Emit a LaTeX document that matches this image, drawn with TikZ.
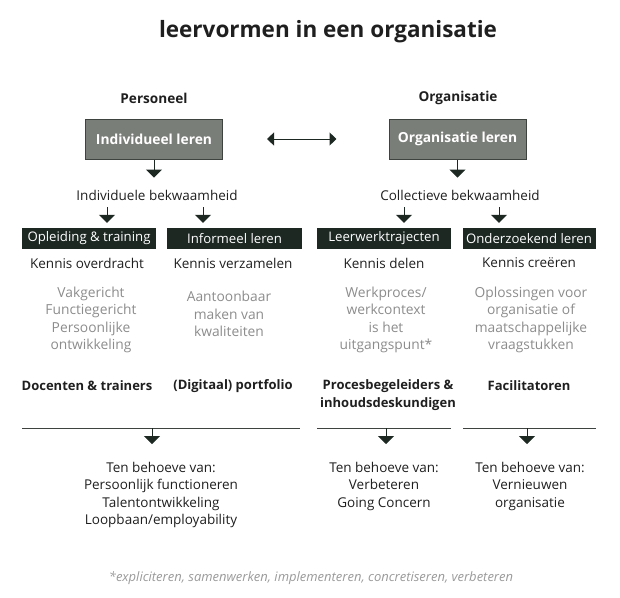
\documentclass[tikz,border=0pt]{standalone}
\usepackage{fontspec}
\setmainfont{Open Sans}
\usepackage{xcolor}
\usepackage{tikz}
\usetikzlibrary{calc,arrows.meta}
\definecolor{learnGrey}{HTML}{7A7E78}
\definecolor{learnGreyLine}{HTML}{3E433F}
\definecolor{formDark}{HTML}{1D2823}
\definecolor{inkDark}{HTML}{1E1F1E}
\definecolor{softGrey}{HTML}{8C8C8C}
\definecolor{noteGrey}{HTML}{9A9A9A}
\tikzset{
  titlelabel/.style={font=\fontsize{22.5}{26}\selectfont\bfseries, text=inkDark, inner sep=0pt},
  sidelabel/.style={font=\fontsize{13.6}{16}\selectfont\bfseries, text=inkDark, inner sep=0pt},
  learnbox/.style={rectangle, draw=learnGreyLine, fill=learnGrey, line width=1pt, text=white, font=\fontsize{13.8}{16}\selectfont\bfseries, minimum width=137pt, minimum height=40pt, inner sep=0pt},
  formbox/.style={rectangle, fill=formDark, text=white, font=\fontsize{13.2}{16}\selectfont, minimum width=134pt, minimum height=21pt, inner sep=0pt},
  plainlabel/.style={font=\fontsize{13.5}{17.5}\selectfont, text=inkDark, align=center, inner sep=0pt},
  greylabel/.style={font=\fontsize{13.8}{17.5}\selectfont, text=softGrey, align=center, inner sep=0pt},
  rolelabel/.style={font=\fontsize{13}{18}\selectfont\bfseries, text=inkDark, align=center, inner sep=0pt},
  notelabel/.style={font=\fontsize{13}{15}\selectfont\itshape, text=noteGrey, inner sep=0pt},
  rulerline/.style={line width=0.8pt, draw=learnGreyLine},
  downarrow/.style={-{Triangle[width=16pt,length=8pt]}, line width=1pt, draw=formDark},
  duoarrow/.style={{Triangle[width=13pt,length=7pt]}-{Triangle[width=13pt,length=7pt]}, line width=1pt, draw=formDark},
}
\begin{document}
\begin{tikzpicture}[x=1pt,y=-1pt]
  \useasboundingbox (0,0) rectangle (620,597);

  % Title
  \node[titlelabel] (title) at (328,32) {leervormen in een organisatie};

  % Two levels
  \node[sidelabel] (pers) at (154,98) {Personeel};
  \node[sidelabel] (orga) at (458,98) {Organisatie};
  \node[learnbox] (indiv) at (154,139) {Individueel leren};
  \node[learnbox] (orgl) at (457.5,139) {Organisatie leren};
  \draw[duoarrow, shorten <=44pt, shorten >=52pt] (indiv.east) -- (orgl.west);

  \node[plainlabel] (indivcap) at (157,195) {Individuele bekwaamheid};
  \node[plainlabel] (collcap) at (460,195) {Collectieve bekwaamheid};
  \draw[downarrow, shorten >=12pt] (indiv.south) -- (indiv.south |- indivcap.north);
  \draw[downarrow, shorten >=12pt] (orgl.south) -- (orgl.south |- collcap.north);

  % Four learning forms
  \node[formbox] (opl) at (89,238.5) {Opleiding \& training};
  \node[formbox, minimum width=135pt] (inf) at (234.5,238.5) {Informeel leren};
  \node[formbox] (leer) at (384,238.5) {Leerwerktrajecten};
  \node[formbox, minimum width=133pt] (onder) at (529,238.5) {Onderzoekend leren};

  \coordinate (oplin) at (107,207);
  \coordinate (infin) at (203,207);
  \coordinate (leerin) at (404,207);
  \coordinate (onderin) at (499,207);
  \draw[downarrow, shorten >=5pt] (oplin) -- (oplin |- opl.north);
  \draw[downarrow, shorten >=5pt] (infin) -- (infin |- inf.north);
  \draw[downarrow, shorten >=5pt] (leerin) -- (leerin |- leer.north);
  \draw[downarrow, shorten >=5pt] (onderin) -- (onderin |- onder.north);

  \node[plainlabel] (k1) at (87,263) {Kennis overdracht};
  \node[plainlabel] (k2) at (233,263) {Kennis verzamelen};
  \node[plainlabel] (k3) at (384,263) {Kennis delen};
  \node[plainlabel] (k4) at (529,263) {Kennis creëren};

  \node[greylabel] (g1) at (91,320) {Vakgericht\\Functiegericht\\Persoonlijke\\ontwikkeling};
  \node[greylabel] (g2) at (229,314) {Aantoonbaar\\maken van\\kwaliteiten};
  \node[greylabel] (g3) at (386,320) {Werkproces/\\werkcontext\\is het\\uitgangspunt*};
  \node[greylabel] (g4) at (531,320) {Oplossingen voor\\organisatie of\\maatschappelijke\\vraagstukken};

  \node[rolelabel] (r1) at (87,386) {Docenten \& trainers};
  \node[rolelabel] (r2) at (233,386) {(Digitaal) portfolio};
  \node[rolelabel] (r3) at (388,395) {Procesbegeleiders \&\\inhoudsdeskundigen};
  \node[rolelabel] (r4) at (529,386) {Facilitatoren};

  % Outcomes
  \coordinate (ruleAl) at (22,428);
  \coordinate (ruleAr) at (300,428);
  \coordinate (ruleBl) at (317,428);
  \coordinate (ruleBr) at (451,428);
  \coordinate (ruleCl) at (463,428);
  \coordinate (ruleCr) at (596,428);
  \draw[rulerline] (ruleAl) -- (ruleAr);
  \draw[rulerline] (ruleBl) -- (ruleBr);
  \draw[rulerline] (ruleCl) -- (ruleCr);

  \node[plainlabel] (b1) at (161,495) {Ten behoeve van:\\Persoonlijk functioneren\\Talentontwikkeling\\Loopbaan/employability};
  \node[plainlabel] (b2) at (384,486) {Ten behoeve van:\\Verbeteren\\Going Concern};
  \node[plainlabel] (b3) at (530,486) {Ten behoeve van:\\Vernieuwen\\organisatie};

  \coordinate (outA) at (152,428);
  \coordinate (outB) at (386,428);
  \coordinate (outC) at (527,428);
  \draw[downarrow] (outA) -- ++(0,16);
  \draw[downarrow] (outB) -- ++(0,16);
  \draw[downarrow] (outC) -- ++(0,16);

  % Footnote
  \node[notelabel] (note) at (311,578) {*expliciteren, samenwerken, implementeren, concretiseren, verbeteren};
\end{tikzpicture}
\end{document}
